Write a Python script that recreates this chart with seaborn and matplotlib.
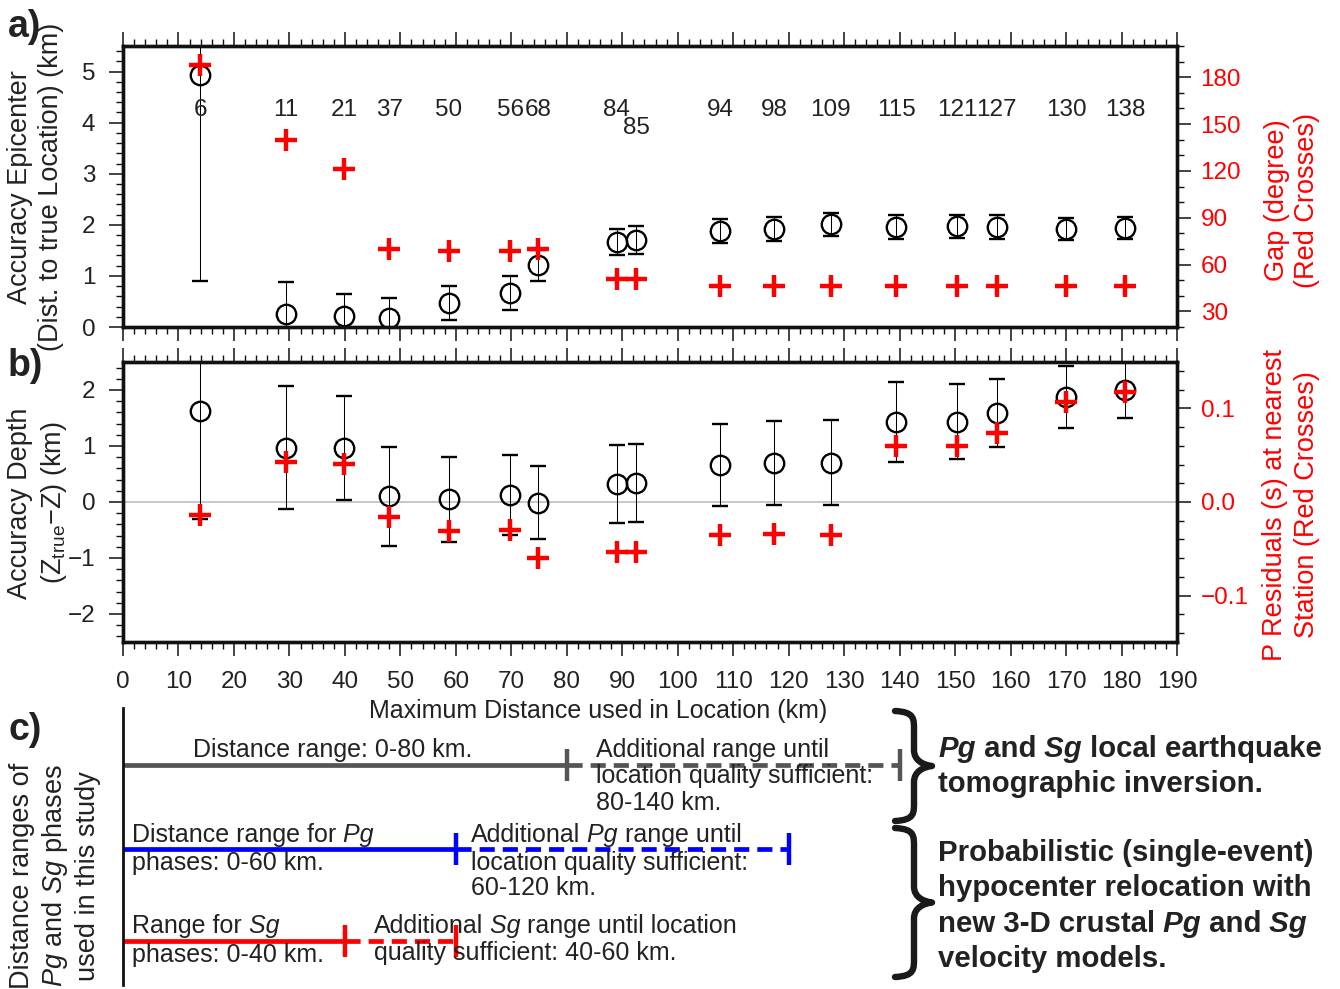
import matplotlib
matplotlib.use("Agg")
import matplotlib.pyplot as plt
import seaborn as sns
import numpy as np
import pandas as pd
from matplotlib.path import Path
from matplotlib.patches import PathPatch
from matplotlib.ticker import MultipleLocator
from matplotlib.transforms import offset_copy

# ---------------- data ----------------
max_distance_km = [13.9, 29.3, 39.8, 48.0, 58.7, 69.8, 74.8, 89.0, 92.5,
                   107.7, 117.4, 127.6, 139.4, 150.4, 157.5, 170.0, 180.6]
station_labels = ["6", "11", "21", "37", "50", "56", "68", "84", "85",
                  "94", "98", "109", "115", "121", "127", "130", "138"]
station_label_y = [4.24, 4.24, 4.24, 4.24, 4.24, 4.24, 4.24, 4.24, 3.90,
                   4.24, 4.24, 4.24, 4.24, 4.24, 4.24, 4.24, 4.24]
epi_accuracy = [4.93, 0.26, 0.22, 0.17, 0.47, 0.67, 1.21, 1.66, 1.70,
                1.88, 1.92, 2.01, 1.96, 1.97, 1.96, 1.92, 1.94]
epi_error = [4.03, 0.62, 0.42, 0.39, 0.335, 0.33, 0.30, 0.26, 0.27,
             0.24, 0.23, 0.23, 0.23, 0.23, 0.23, 0.22, 0.22]
gap_deg = [188, 140, 121, 70, 69, 69, 70, 50.5, 50.5,
           46.5, 46.5, 46.5, 46.5, 46.5, 46.5, 46.5, 46.5]
depth_accuracy = [1.62, 0.97, 0.96, 0.10, 0.05, 0.125, -0.01, 0.32, 0.34,
                  0.655, 0.70, 0.70, 1.43, 1.43, 1.59, 1.875, 2.0]
depth_error = [1.92, 1.10, 0.93, 0.89, 0.76, 0.72, 0.65, 0.70, 0.70,
               0.73, 0.75, 0.76, 0.72, 0.67, 0.61, 0.55, 0.50]
p_residual_s = [-0.014, 0.043, 0.041, -0.016, -0.031, -0.030, -0.060, -0.053, -0.053,
                -0.0356, -0.0345, -0.035, 0.060, 0.060, 0.074, 0.107, 0.117]

# panel c: distance ranges (km)
range_names = ["all", "Pg", "Sg"]
range_solid_end = [80, 60, 40]
range_dashed_end = [140, 120, 60]
range_colors = ["#555555", "#0000ff", "#ff0000"]

df = pd.DataFrame({"dist": max_distance_km, "epi": epi_accuracy, "epi_err": epi_error,
                   "gap": gap_deg, "depth": depth_accuracy, "depth_err": depth_error,
                   "pres": p_residual_s})

# ---------------- style ----------------
sns.set_theme(style="ticks")
plt.rcParams['font.family'] = ['Liberation Sans', 'DejaVu Sans']
plt.rcParams['mathtext.fontset'] = 'custom'
plt.rcParams['mathtext.rm'] = 'Liberation Sans'
plt.rcParams['mathtext.it'] = 'Liberation Sans:italic'
plt.rcParams['axes.unicode_minus'] = True

W, H = 1340, 989
fig = plt.figure(figsize=(W / 100, H / 100), dpi=100)
TXT = '#222222'
RED = '#ff0000'
TICK_FS = 17.5
LAB_FS = 18
YLAB_FS = 19.5


def rect(l, t, r, b):
    return [l / W, 1 - b / H, (r - l) / W, (b - t) / H]


def style_main(ax, xlabels):
    ax.set_xlim(0, 190)
    ax.xaxis.set_major_locator(MultipleLocator(10))
    ax.xaxis.set_minor_locator(MultipleLocator(2))
    ax.tick_params(axis='x', which='both', direction='out', top=True, bottom=True,
                   labelbottom=xlabels, labeltop=False)
    ax.tick_params(axis='both', which='major', length=10, width=1.1, color='#111111',
                   labelsize=TICK_FS, labelcolor=TXT)
    ax.tick_params(axis='x', which='major', pad=11)
    ax.tick_params(axis='y', which='major', pad=10)
    ax.tick_params(axis='both', which='minor', length=5, width=1.0, color='#111111')
    for s in ax.spines.values():
        s.set_linewidth(2.4)
        s.set_color('#111111')
        s.set_visible(True)


def style_right(ax2):
    ax2.tick_params(axis='y', which='major', direction='out', length=10, width=1.1,
                    color='#111111', labelsize=TICK_FS, labelcolor=RED, pad=7)
    ax2.tick_params(axis='y', which='minor', direction='out', length=5, width=1.0,
                    color='#111111')
    for s in ax2.spines.values():
        s.set_linewidth(2.4)
        s.set_color('#111111')


EB = dict(fmt='o', ms=14, mfc='none', mec='black', mew=1.7, ecolor='black',
          elinewidth=0.75, capsize=6, capthick=0.75, zorder=3)

# ---------------- panel a ----------------
ax_a = fig.add_axes(rect(123, 46, 1177, 327))
style_main(ax_a, False)
ax_a.set_ylim(0, 5.5)
ax_a.yaxis.set_major_locator(MultipleLocator(1))
ax_a.yaxis.set_minor_locator(MultipleLocator(0.2))
ax_a.errorbar(df["dist"], df["epi"], yerr=df["epi_err"], **EB)
for xv, yv, lab in zip(max_distance_km, station_label_y, station_labels):
    ax_a.text(xv, yv, lab, ha='center', va='center', fontsize=TICK_FS, color=TXT)
ax_a2 = ax_a.twinx()
ax_a2.set_ylim(20, 200)
ax_a2.yaxis.set_major_locator(MultipleLocator(30))
ax_a2.yaxis.set_minor_locator(MultipleLocator(10))
style_right(ax_a2)
sns.scatterplot(data=df, x="dist", y="gap", ax=ax_a2, marker='+', s=230, color=RED,
                linewidth=3.2, legend=False, zorder=5)
ax_a2.set_xlabel('')
ax_a2.set_ylabel('')
ax_a.set_xlabel('')
ax_a.set_ylabel('')

# ---------------- panel b ----------------
ax_b = fig.add_axes(rect(123, 362, 1177, 642))
style_main(ax_b, True)
ax_b.set_ylim(-2.5, 2.5)
ax_b.yaxis.set_major_locator(MultipleLocator(1))
ax_b.yaxis.set_minor_locator(MultipleLocator(0.2))
ax_b.axhline(0, color='#bdbdbd', lw=1.2, zorder=0)
ax_b.errorbar(df["dist"], df["depth"], yerr=df["depth_err"], **EB)
ax_b2 = ax_b.twinx()
km_per_s = 16.73
ax_b2.set_ylim(-2.5 / km_per_s, 2.5 / km_per_s)
ax_b2.set_yticks([-0.1, 0.0, 0.1], ['\u22120.1', '0.0', '0.1'])
ax_b2.yaxis.set_minor_locator(MultipleLocator(0.02))
style_right(ax_b2)
sns.scatterplot(data=df, x="dist", y="pres", ax=ax_b2, marker='+', s=230, color=RED,
                linewidth=3.2, legend=False, zorder=5)
ax_b2.set_xlabel('')
ax_b2.set_ylabel('')
ax_b.set_ylabel('')
ax_b.set_xlabel('Maximum Distance used in Location (km)', fontsize=LAB_FS, color=TXT)
ax_b.xaxis.set_label_coords(0.451, -0.205)

# ---------------- axis titles ----------------
LS = 1.25
fig.text(36 / W, 1 - 187 / H, "Accuracy Epicenter\n(Dist. to true Location) (km)",
         rotation=90, ha='center', va='center', multialignment='center',
         fontsize=YLAB_FS, color=TXT, linespacing=LS)
fig.text(38 / W, 1 - 503 / H, "Accuracy Depth\n(Z$_{\\rm true}$\u2212Z) (km)",
         rotation=90, ha='center', va='center', multialignment='center',
         fontsize=YLAB_FS, color=TXT, linespacing=LS)
fig.text(1292 / W, 1 - 200 / H, "Gap (degree)\n(Red Crosses)",
         rotation=90, ha='center', va='center', multialignment='center',
         fontsize=YLAB_FS, color=RED, linespacing=LS)
fig.text(1291 / W, 1 - 505 / H, "P Residuals (s) at nearest\nStation (Red Crosses)",
         rotation=90, ha='center', va='center', multialignment='center',
         fontsize=YLAB_FS, color=RED, linespacing=LS)
fig.text(55 / W, 1 - 876 / H, "Distance ranges of\n$Pg$ and $Sg$ phases\nused in this study",
         rotation=90, ha='center', va='center', multialignment='center',
         fontsize=YLAB_FS, color=TXT, linespacing=LS)

for lab, x, y in [("a)", 8, 37), ("b)", 8, 376), ("c)", 8, 740)]:
    fig.text(x / W, 1 - y / H, lab, fontsize=27, fontweight='bold', color=TXT,
             ha='left', va='baseline')

# ---------------- panel c ----------------
ax_c = fig.add_axes(rect(123, 700, 1177, 989))
ax_c.set_xlim(0, 190)
ax_c.set_ylim(989, 700)
for side in ['top', 'right', 'bottom']:
    ax_c.spines[side].set_visible(False)
ax_c.spines['left'].set_bounds(985, 708)
ax_c.spines['left'].set_linewidth(2.0)
ax_c.spines['left'].set_color('#111111')
ax_c.set_xticks([])
ax_c.set_yticks([])
ax_c.patch.set_alpha(0)

row_y = [765, 849, 941]
for y, s_end, d_end, col in zip(row_y, range_solid_end, range_dashed_end, range_colors):
    ax_c.plot([0, s_end], [y, y], color=col, lw=3.4, solid_capstyle='butt')
    ax_c.plot([s_end, d_end], [y, y], color=col, lw=3.4, ls=(0, (3.2, 1.7)),
              dash_capstyle='butt')
    ax_c.plot([s_end, d_end], [y, y], ls='none', marker='|', ms=23, mew=3.2, color=col)

renderer = fig.canvas.get_renderer()


def rich_line(ax, x, y, pieces, size, weight='normal', color=TXT):
    off = 0.0
    for txt, ital in pieces:
        tr = offset_copy(ax.transData, x=off, y=0, units='dots')
        t = ax.text(x, y, txt, transform=tr, fontsize=size, fontweight=weight,
                    fontstyle='italic' if ital else 'normal', ha='left',
                    va='baseline', color=color)
        off += t.get_window_extent(renderer=renderer).width


C_FS = 18
rich_line(ax_c, 12.6, 757, [("Distance range: 0-80 km.", False)], C_FS)
rich_line(ax_c, 85.3, 757, [("Additional range until", False)], C_FS)
rich_line(ax_c, 85.3, 783.5, [("location quality sufficient:", False)], C_FS)
rich_line(ax_c, 85.3, 810.5, [("80-140 km.", False)], C_FS)
rich_line(ax_c, 1.6, 842, [("Distance range for", False), (" Pg", True)], C_FS)
rich_line(ax_c, 1.6, 870, [("phases: 0-60 km.", False)], C_FS)
rich_line(ax_c, 62.7, 842, [("Additional", False), (" Pg", True), (" range until", False)], C_FS)
rich_line(ax_c, 62.7, 870, [("location quality sufficient:", False)], C_FS)
rich_line(ax_c, 62.7, 895, [("60-120 km.", False)], C_FS)
rich_line(ax_c, 1.6, 933.5, [("Range for", False), (" Sg", True)], C_FS)
rich_line(ax_c, 1.6, 962, [("phases: 0-40 km.", False)], C_FS)
rich_line(ax_c, 45.2, 933.5, [("Additional", False), (" Sg", True),
                              (" range until location", False)], C_FS)
rich_line(ax_c, 45.2, 960.5, [("quality sufficient: 40-60 km.", False)], C_FS)

# ---------------- overlay: braces & bold notes ----------------
ax_o = fig.add_axes([0, 0, 1, 1])
ax_o.set_xlim(0, W)
ax_o.set_ylim(H, 0)
ax_o.axis('off')
ax_o.patch.set_alpha(0)


def brace(ax, x0, xs, xt, y0, y1):
    ym = (y0 + y1) / 2
    v = [(x0, y0), (xs + 1, y0 + 1), (xs, y0 + 8), (xs, y0 + 20),
         (xs, ym - 16),
         (xs, ym - 5), (xt - 8, ym - 1), (xt, ym),
         (xt - 8, ym + 1), (xs, ym + 5), (xs, ym + 16),
         (xs, y1 - 20),
         (xs, y1 - 8), (xs + 1, y1 - 1), (x0, y1)]
    c = [Path.MOVETO, Path.CURVE4, Path.CURVE4, Path.CURVE4, Path.LINETO,
         Path.CURVE4, Path.CURVE4, Path.CURVE4, Path.CURVE4, Path.CURVE4, Path.CURVE4,
         Path.LINETO, Path.CURVE4, Path.CURVE4, Path.CURVE4]
    ax.add_patch(PathPatch(Path(v, c), fill=False, lw=4.6, ec='#1a1a1a',
                           capstyle='round', joinstyle='round'))


brace(ax_o, 895, 914, 932, 711, 821)
brace(ax_o, 895, 914, 932, 828, 977)

B_FS = 21.2
rich_line(ax_o, 938, 757, [("Pg", True), (" and", False), (" Sg", True),
                           (" local earthquake", False)], B_FS, 'bold')
rich_line(ax_o, 938, 792, [("tomographic inversion.", False)], B_FS, 'bold')
rich_line(ax_o, 938, 861, [("Probabilistic (single-event)", False)], B_FS, 'bold')
rich_line(ax_o, 938, 896, [("hypocenter relocation with", False)], B_FS, 'bold')
rich_line(ax_o, 938, 932, [("new 3-D crustal", False), (" Pg", True), (" and", False),
                           (" Sg", True)], B_FS, 'bold')
rich_line(ax_o, 938, 967, [("velocity models.", False)], B_FS, 'bold')

fig.savefig("out.png", dpi=100)
